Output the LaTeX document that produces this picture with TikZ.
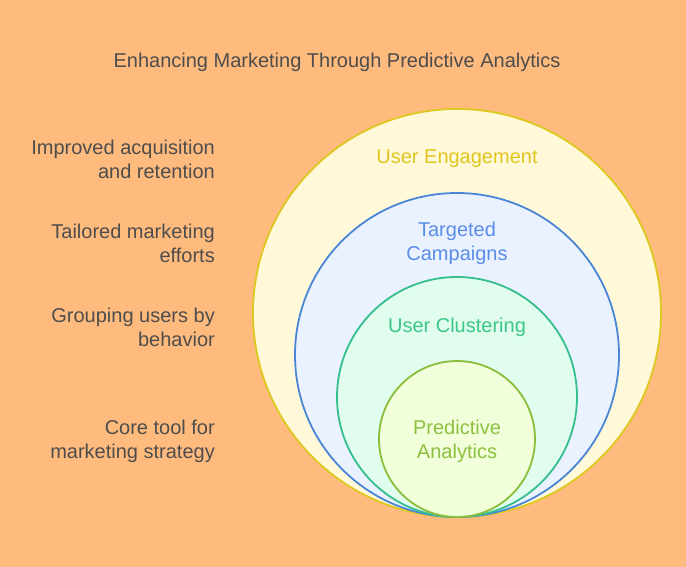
\documentclass[tikz,border=0pt]{standalone}
\usepackage{fontspec}
\setmainfont{Liberation Sans}
\definecolor{bgorange}{HTML}{FFBB7D}
\definecolor{txtgray}{HTML}{4D4D4D}
\definecolor{engline}{HTML}{DCC81E}
\definecolor{engfill}{HTML}{FFF9DA}
\definecolor{engtext}{HTML}{E0C51E}
\definecolor{campline}{HTML}{4B86D6}
\definecolor{campfill}{HTML}{EBF2FF}
\definecolor{camptext}{HTML}{5A8DE8}
\definecolor{clusline}{HTML}{35BE8E}
\definecolor{clusfill}{HTML}{E0FDEE}
\definecolor{clustext}{HTML}{3CC68A}
\definecolor{predline}{HTML}{8BBE3C}
\definecolor{predfill}{HTML}{F1FFDB}
\definecolor{predtext}{HTML}{8CC03E}
\tikzset{
  note/.style={anchor=east, align=right, inner sep=0pt, text=txtgray, font=\fontsize{20}{24}\selectfont},
  ring/.style={line width=1.8pt},
  ringlabel/.style={align=center, font=\fontsize{20}{24}\selectfont}
}
\begin{document}
\begin{tikzpicture}[x=1pt, y=-1pt]
  \useasboundingbox (0,0) rectangle (686,567);
  \fill[bgorange] (0,0) rectangle (686,567);
  \node[text=txtgray, font=\fontsize{20}{24}\selectfont] (title) at (337,62) {Enhancing Marketing Through Predictive Analytics};
  % nested circles, all touching at the bottom
  \filldraw[ring, draw=engline, fill=engfill] (457,313) circle[radius=204pt];
  \filldraw[ring, draw=campline, fill=campfill] (457,355) circle[radius=162pt];
  \filldraw[ring, draw=clusline, fill=clusfill] (457,397) circle[radius=120pt];
  \filldraw[ring, draw=predline, fill=predfill] (457,439) circle[radius=78pt];
  \node[ringlabel, text=engtext] (engage) at (457,159) {User Engagement};
  \node[ringlabel, text=camptext] (campaign) at (457,243) {Targeted\\Campaigns};
  \node[ringlabel, text=clustext] (cluster) at (457,327) {User Clustering};
  \node[ringlabel, text=predtext] (predict) at (457,441) {Predictive\\Analytics};
  % descriptions on the left
  \node[note] (d1) at (215,159) {Improved acquisition\\and retention};
  \node[note] (d2) at (215,243) {Tailored marketing\\efforts};
  \node[note] (d3) at (215,327) {Grouping users by\\behavior};
  \node[note] (d4) at (215,441) {Core tool for\\marketing strategy};
\end{tikzpicture}
\end{document}
